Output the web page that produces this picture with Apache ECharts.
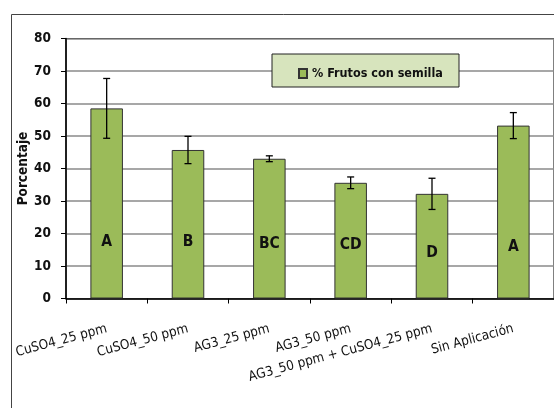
<!DOCTYPE html>
<html>
<head>
<meta charset="utf-8">
<script src="https://cdn.jsdelivr.net/npm/echarts@6/dist/echarts.min.js"></script>
<style>html,body{margin:0;padding:0;background:#fff}#c{width:554px;height:408px}</style>
</head>
<body>
<div id="c"></div>
<script>
const categories = ["CuSO4_25 ppm", "CuSO4_50 ppm", "AG3_25 ppm", "AG3_50 ppm", "AG3_50 ppm + CuSO4_25 ppm", "Sin Aplicación"];
const values = [58.5, 45.7, 43.0, 35.6, 32.2, 53.2];
const errors = [9.2, 4.2, 0.9, 1.8, 4.8, 4.0];
const letters = ["A", "B", "BC", "CD", "D", "A"];
const letterPos = [17.5, 17.5, 16.7, 16.5, 14.1, 15.8];
const yTicks = [0, 10, 20, 30, 40, 50, 60, 70, 80];
const seriesName = "% Frutos con semilla";

const FONT = "'DejaVu Sans Condensed', Lato, sans-serif";
const chart = echarts.init(document.getElementById('c'));
chart.setOption({
  animation: false,
  backgroundColor: '#fff',
  graphic: [
    { type: 'rect', z: 10, shape: { x: 11.5, y: 14.5, width: 700, height: 600 }, style: { fill: 'none', stroke: '#444', lineWidth: 1 } },
    { type: 'rect', z: 5, shape: { x: 272, y: 54, width: 187, height: 33 }, style: { fill: '#d7e4bd', stroke: '#222', lineWidth: 1 } }
  ],
  grid: { left: 66, top: 38.5, right: -5.5, bottom: 109.5, show: true, borderColor: '#000', borderWidth: 1 },
  legend: {
    z: 8,
    left: 293, top: 62,
    itemWidth: 8, itemHeight: 9, itemGap: 4,
    data: [{ name: seriesName, icon: 'rect' }],
    textStyle: { fontFamily: FONT, fontWeight: 'bold', fontSize: 12.5, color: '#111' }
  },
  xAxis: {
    type: 'category',
    data: categories,
    axisLine: { lineStyle: { color: '#000', width: 1.5 } },
    axisTick: { show: true, length: 5, lineStyle: { color: '#000' } },
    axisLabel: { interval: 0, rotate: 15, margin: 30, fontFamily: FONT, fontSize: 13.5, color: '#111' }
  },
  yAxis: {
    type: 'value', min: 0, max: 80, interval: 10,
    name: 'Porcentaje', nameLocation: 'middle', nameGap: 36, nameMoveOverlap: false,
    nameTextStyle: { fontFamily: FONT, fontWeight: 'bold', fontSize: 13.5, color: '#111' },
    axisLine: { show: true, lineStyle: { color: '#000', width: 1.5 } },
    axisTick: { show: true, length: 5, lineStyle: { color: '#000' } },
    axisLabel: { fontFamily: FONT, fontWeight: 'bold', fontSize: 13.5, color: '#111', margin: 15,
      formatter: v => yTicks.includes(v) ? String(v) : '' },
    splitLine: { lineStyle: { color: '#8a8a8a', width: 1.5 } }
  },
  series: [
    {
      name: seriesName, type: 'bar', data: values, barWidth: '40%',
      itemStyle: { color: '#9bbb59', borderColor: '#333', borderWidth: 1 }
    },
    {
      type: 'custom', silent: true, z: 5,
      data: values.map((v, i) => [i, v, errors[i]]),
      renderItem: (params, api) => {
        const i = api.value(0), v = api.value(1), e = api.value(2);
        const top = api.coord([i, v + e]);
        const bot = api.coord([i, v - e]);
        const x = top[0], w = 3.5;
        const st = { stroke: '#000', lineWidth: 1.3 };
        return { type: 'group', children: [
          { type: 'line', shape: { x1: x, y1: top[1], x2: x, y2: bot[1] }, style: st },
          { type: 'line', shape: { x1: x - w, y1: top[1], x2: x + w, y2: top[1] }, style: st },
          { type: 'line', shape: { x1: x - w, y1: bot[1], x2: x + w, y2: bot[1] }, style: st }
        ]};
      }
    },
    {
      type: 'custom', silent: true, z: 6,
      data: letterPos.map((p, i) => [i, p]),
      renderItem: (params, api) => {
        const c = api.coord([api.value(0), api.value(1)]);
        return { type: 'text', x: c[0], y: c[1], style: { text: letters[params.dataIndex], fontFamily: FONT, fontWeight: 'bold', fontSize: 15.5, fill: '#111', align: 'center', verticalAlign: 'middle' } };
      }
    }
  ]
});
</script>
</body>
</html>
